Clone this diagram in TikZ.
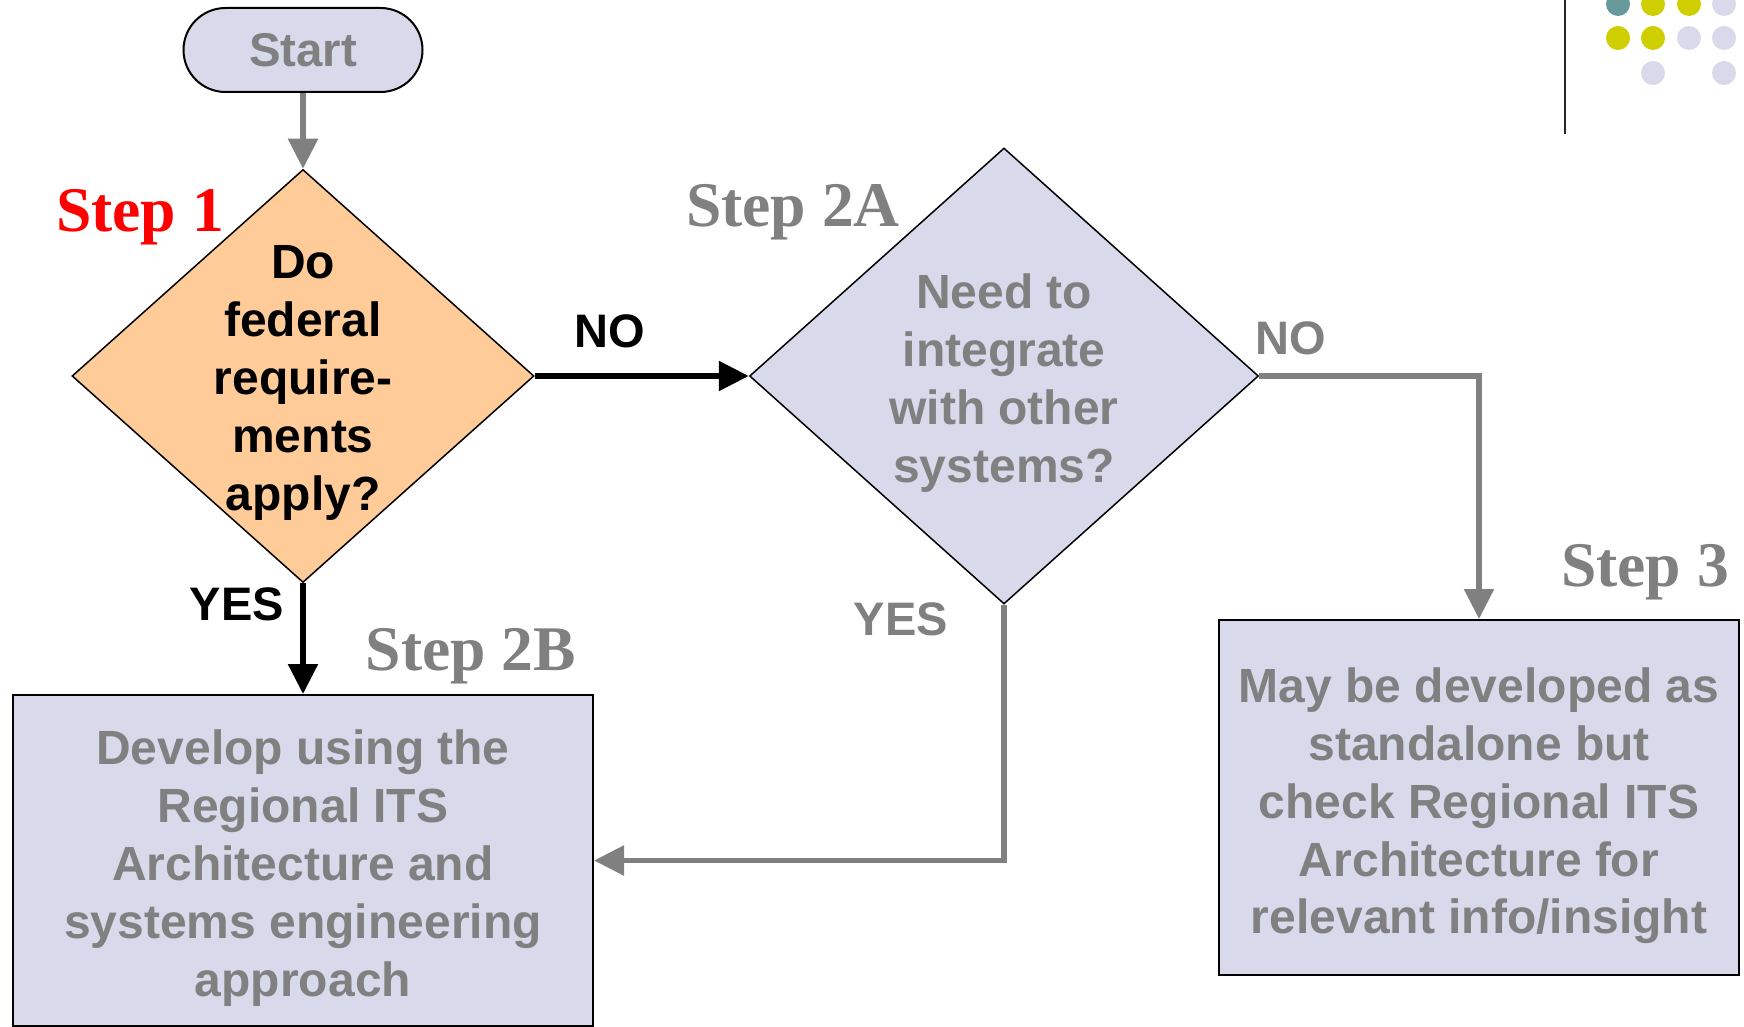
\documentclass[tikz,border=0pt]{standalone}
\usepackage{fontspec}
\setmainfont{Liberation Sans}
\newfontfamily\stepfont{Liberation Serif}
\usetikzlibrary{shapes.geometric,arrows.meta}
\definecolor{lav}{RGB}{217,217,236}
\definecolor{peach}{RGB}{255,204,153}
\definecolor{txtgray}{RGB}{128,128,128}
\definecolor{teal}{RGB}{102,153,153}
\definecolor{olive}{RGB}{206,206,0}
\tikzset{
  bodytext/.style={font=\bfseries\fontsize{24}{28.9}\selectfont, align=center, inner sep=0pt},
  stepbox/.style={draw=black, line width=1pt, fill=lav, rectangle, inner sep=0pt},
  decision/.style={draw=black, line width=0.75pt, diamond, inner sep=0pt},
  steplabel/.style={font=\stepfont\bfseries\fontsize{31.8}{36}\selectfont, anchor=base, inner sep=0pt},
  edgelabel/.style={font=\bfseries\fontsize{23.5}{28.9}\selectfont, anchor=base, inner sep=0pt},
  garrow/.style={draw=txtgray, line width=2.75pt, -{Triangle[length=15pt,width=14.5pt]}},
  barrow/.style={draw=black, line width=2.75pt, -{Triangle[length=15pt,width=14.5pt]}},
}
\begin{document}
\begin{tikzpicture}[x=0.5pt,y=-0.5pt]
\useasboundingbox (0,0) rectangle (1744,1027);
% decoration top right
\draw[line width=1.2pt, black!85] (1565,0) -- (1565,134);
\fill[teal] (1618,4) circle (12);
\fill[olive] (1653,4) circle (12);
\fill[olive] (1689,4) circle (12);
\fill[lav] (1724,4) circle (12);
\fill[olive] (1618,38) circle (12);
\fill[olive] (1653,38) circle (12);
\fill[lav] (1689,38) circle (12);
\fill[lav] (1724,38) circle (12);
\fill[lav] (1653,73) circle (12);
\fill[lav] (1724,73) circle (12);
% nodes
\node[draw=black, line width=1pt, fill=lav, rounded corners=21pt, minimum width=119.5pt, minimum height=42pt, inner sep=0pt, text=txtgray, font=\bfseries\fontsize{23.7}{28.9}\selectfont] (st) at (303,50) {Start};
\node[decision, fill=peach, minimum width=231pt, minimum height=206.5pt] (d1) at (303,376) {};
\node[bodytext, text=black] (d1t) at (303,383) {Do\\federal\\require-\\ments\\apply?};
\node[decision, fill=lav, minimum width=254.5pt, minimum height=228pt] (d2) at (1004,376) {};
\node[bodytext, text=txtgray] (d2t) at (1004,383) {Need to\\integrate\\with other\\systems?};
\node[stepbox, minimum width=290pt, minimum height=165.5pt] (b2) at (303,860.5) {};
\node[bodytext, text=txtgray] (b2t) at (303,868) {Develop using the\\Regional ITS\\Architecture and\\systems engineering\\approach};
\node[stepbox, minimum width=260pt, minimum height=177.5pt] (b3) at (1479,797.5) {};
\node[bodytext, text=txtgray] (b3t) at (1479,806) {May be developed as\\standalone but\\check Regional ITS\\Architecture for\\relevant info/insight};
% step labels
\node[steplabel, text=red] (s1) at (140,232) {Step 1};
\node[steplabel, text=txtgray] (s2a) at (793,227) {Step 2A};
\node[steplabel, text=txtgray] (s2b) at (471,670) {Step 2B};
\node[steplabel, text=txtgray] (s3) at (1645,586) {Step 3};
% edge labels
\node[edgelabel, text=black] (no1) at (610,347) {NO};
\node[edgelabel, text=black] (yes1) at (237,620) {YES};
\node[edgelabel, text=txtgray] (no2) at (1291,354) {NO};
\node[edgelabel, text=txtgray] (yes2) at (901,635) {YES};
% connectors
\draw[garrow] (st.south) -- (d1.north);
\draw[barrow] (d1.east) -- (d2.west);
\draw[barrow] (d1.south) -- (b2.north);
\draw[garrow] (d2.east) -| (b3.north);
\draw[garrow] (d2.south) |- (b2.east);
\end{tikzpicture}
\end{document}
